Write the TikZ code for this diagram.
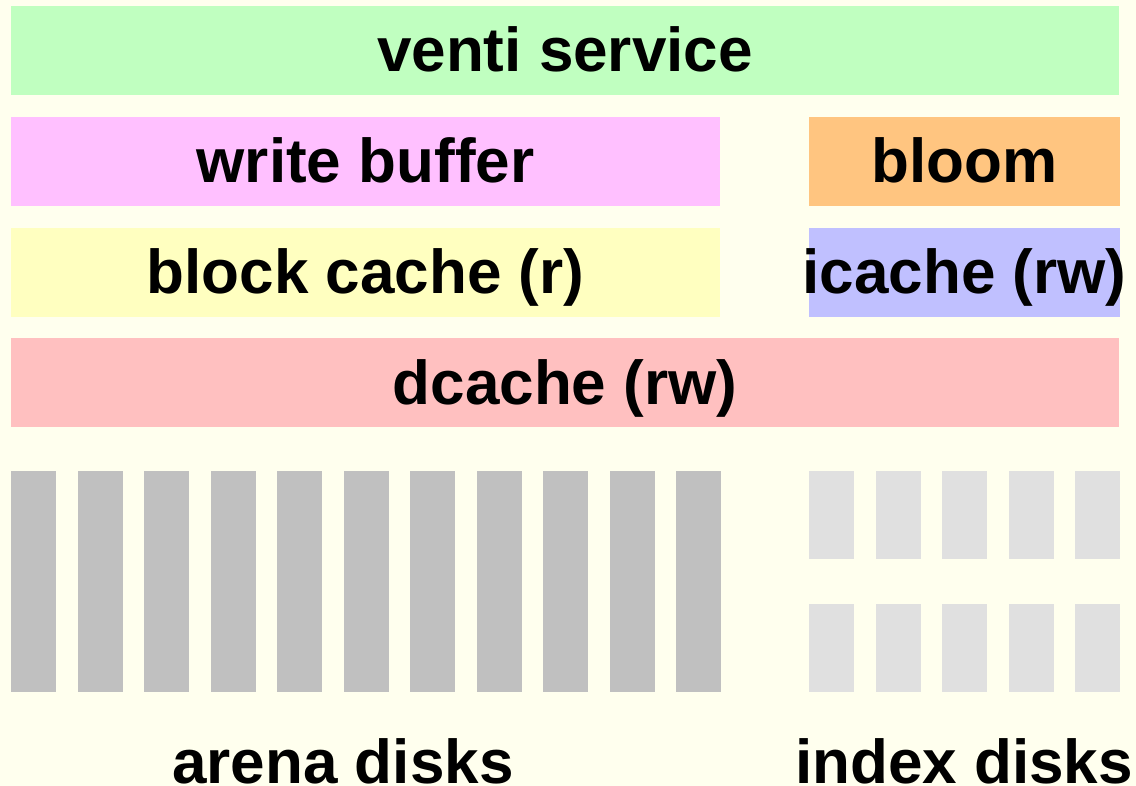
\documentclass[tikz,border=0pt]{standalone}
\usepackage{fontspec}
\setmainfont{Liberation Sans}
\definecolor{bgyellow}{HTML}{FFFFEE}
\definecolor{svcgreen}{HTML}{C0FFC0}
\definecolor{wbpink}{HTML}{FFC0FF}
\definecolor{bloomorange}{HTML}{FFC580}
\definecolor{bcyellow}{HTML}{FFFFC0}
\definecolor{iclav}{HTML}{C0C0FF}
\definecolor{dcred}{HTML}{FFC0C0}
\definecolor{arenagray}{HTML}{C0C0C0}
\definecolor{indexgray}{HTML}{E0E0E0}
\begin{document}
\begin{tikzpicture}[x=1pt,y=-1pt,
  layer/.style={draw=none,inner sep=0pt,outer sep=0pt,anchor=north west,minimum height=89pt},
  lbl/.style={inner sep=0pt,anchor=base,font=\fontsize{62}{62}\selectfont\bfseries},
  arena/.style={fill=arenagray,draw=none},
  idx/.style={fill=indexgray,draw=none}]
  % page background
  \fill[bgyellow] (0,0) rectangle (1136,786);
  \useasboundingbox (0,0) rectangle (1136,786);

  % software layers
  \node[layer,fill=svcgreen,minimum width=1108pt] (svc) at (11,6) {};
  \node[layer,fill=wbpink,minimum width=709pt] (wb) at (11,117) {};
  \node[layer,fill=bloomorange,minimum width=311pt] (bloom) at (809,117) {};
  \node[layer,fill=bcyellow,minimum width=709pt] (bc) at (11,228) {};
  \node[layer,fill=iclav,minimum width=311pt] (ic) at (809,228) {};
  \node[layer,fill=dcred,minimum width=1108pt] (dc) at (11,338) {};

  % layer labels, placed on a common baseline inside each layer
  \path (svc.north)   ++(0,66) node[lbl] (svcl)   {venti service};
  \path (wb.north)    ++(0,66) node[lbl] (wbl)    {write buffer};
  \path (bloom.north) ++(0,66) node[lbl] (blooml) {bloom};
  \path (bc.north)    ++(0,66) node[lbl] (bcl)    {block cache (r)};
  \path (ic.north)    ++(0,66) node[lbl] (icl)    {icache (rw)};
  \path (dc.north)    ++(0,67) node[lbl] (dcl)    {dcache (rw)};

  % arena disks
  \foreach \i in {0,...,10}
    \fill[arena] ({11+\i*66.5},471) rectangle ({56+\i*66.5},692);
  % index disks, two rows
  \foreach \j in {0,...,4}{
    \fill[idx] ({809+\j*66.5},471) rectangle ({854+\j*66.5},559);
    \fill[idx] ({809+\j*66.5},604) rectangle ({854+\j*66.5},692);
  }

  % disk group captions
  \node[lbl] (arenal) at (343,783) {arena disks};
  \node[lbl] (indexl) at (964,783) {index disks};
\end{tikzpicture}
\end{document}
